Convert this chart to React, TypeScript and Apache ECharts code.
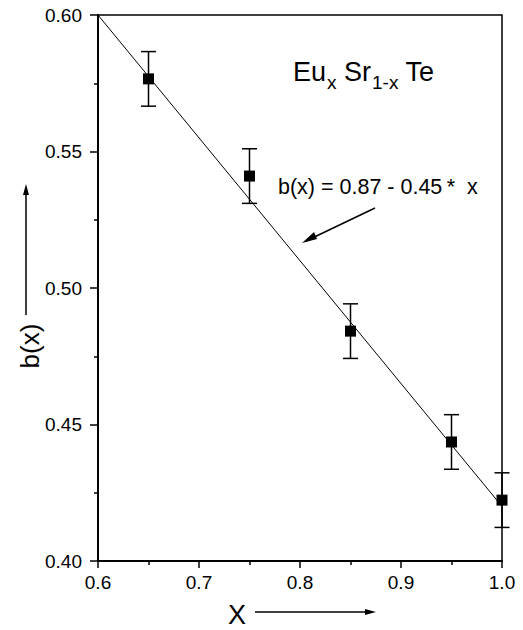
import React, { useEffect, useRef } from "react";
import * as echarts from "echarts";

const xValues = [0.65, 0.75, 0.85, 0.95, 1.0];
const bValues = [0.5766, 0.541, 0.4842, 0.4436, 0.4223];
const bErrors = [0.01, 0.01, 0.01, 0.01, 0.01];
const fitX = [0.6, 1.0];
const fitY = [0.6, 0.42];
const xTicks = [0.6, 0.7, 0.8, 0.9, 1.0];
const yTicks = [0.4, 0.45, 0.5, 0.55, 0.6];

const FONT = "'Liberation Sans', Arial, Helvetica, sans-serif";

export default function App() {
  const ref = useRef<HTMLDivElement>(null);
  useEffect(() => {
    if (!ref.current) return;
    const chart = echarts.init(ref.current, null, { renderer: "svg" });
    const points = xValues.map((x, i) => [x, bValues[i]]);
    const errs = xValues.map((x, i) => [x, bValues[i] - bErrors[i], bValues[i] + bErrors[i]]);
    const fit = fitX.map((x, i) => [x, fitY[i]]);
    chart.setOption({
      animation: false,
      backgroundColor: "#ffffff",
      textStyle: { fontFamily: FONT },
      grid: {
        left: 98,
        right: 21,
        top: 15,
        bottom: 69,
        show: true,
        borderColor: "#000",
        borderWidth: 1.5,
        containLabel: false,
      },
      xAxis: {
        type: "value",
        min: xTicks[0],
        max: xTicks[xTicks.length - 1],
        interval: 0.1,
        axisLine: { show: true, onZero: false, lineStyle: { color: "#000", width: 2 } },
        axisTick: { show: true, length: 7, lineStyle: { color: "#000", width: 1.5 } },
        minorTick: { show: true, splitNumber: 2, length: 4, lineStyle: { color: "#000", width: 1.5 } },
        splitLine: { show: false },
        axisLabel: {
          color: "#000",
          fontSize: 19,
          fontFamily: FONT,
          margin: 12,
          formatter: (v: number) => v.toFixed(1),
        },
      },
      yAxis: {
        type: "value",
        min: yTicks[0],
        max: yTicks[yTicks.length - 1],
        interval: 0.05,
        axisLine: { show: true, onZero: false, lineStyle: { color: "#000", width: 2 } },
        axisTick: { show: true, length: 8, lineStyle: { color: "#000", width: 1.5 } },
        minorTick: { show: true, splitNumber: 2, length: 4, lineStyle: { color: "#000", width: 1.5 } },
        splitLine: { show: false },
        axisLabel: {
          color: "#000",
          fontSize: 19,
          fontFamily: FONT,
          margin: 16,
          formatter: (v: number) => v.toFixed(2),
        },
      },
      series: [
        {
          type: "line",
          data: fit,
          symbol: "none",
          lineStyle: { color: "#000", width: 1 },
          z: 2,
        },
        {
          type: "custom",
          data: errs,
          z: 3,
          renderItem: (params: any, api: any) => {
            const x = api.value(0);
            const lo = api.coord([x, api.value(1)]);
            const hi = api.coord([x, api.value(2)]);
            const cap = 7.5;
            const style = { stroke: "#000", lineWidth: 1.5 };
            return {
              type: "group",
              children: [
                { type: "line", shape: { x1: lo[0], y1: lo[1], x2: hi[0], y2: hi[1] }, style },
                { type: "line", shape: { x1: lo[0] - cap, y1: lo[1], x2: lo[0] + cap, y2: lo[1] }, style },
                { type: "line", shape: { x1: hi[0] - cap, y1: hi[1], x2: hi[0] + cap, y2: hi[1] }, style },
              ],
            };
          },
        },
        {
          type: "scatter",
          data: points,
          symbol: "rect",
          symbolSize: 11,
          itemStyle: { color: "#000", opacity: 1 },
          z: 4,
        },
      ],
      graphic: [
        {
          type: "text",
          left: 293,
          top: 58,
          style: {
            text: "{n|Eu}{s|x}{n| Sr}{s|1-x}{n| Te}",
            fill: "#000",
            rich: {
              n: { fontSize: 27, fontFamily: FONT, fill: "#000", verticalAlign: "bottom", lineHeight: 30 },
              s: { fontSize: 19, fontFamily: FONT, fill: "#000", verticalAlign: "bottom", lineHeight: 22, padding: [0, 0, -7, 1] },
            },
          },
        },
        {
          type: "text",
          x: 278,
          y: 187,
          style: {
            text: "b(x) = 0.87 - 0.45\u2009*  x",
            fontSize: 21.5,
            fontFamily: FONT,
            fill: "#000",
            verticalAlign: "middle",
          },
        },
        {
          type: "line",
          shape: { x1: 375, y1: 208, x2: 306, y2: 241 },
          style: { stroke: "#000", lineWidth: 1.5 },
        },
        {
          type: "polygon",
          shape: { points: [[302, 243], [314, 232], [317, 239]] },
          style: { fill: "#000" },
        },
        {
          type: "text",
          x: 30,
          y: 346,
          rotation: Math.PI / 2,
          style: {
            text: "b(x)",
            fontSize: 26,
            fontFamily: FONT,
            fill: "#000",
            align: "center",
            verticalAlign: "middle",
          },
        },
        {
          type: "line",
          shape: { x1: 26, y1: 315, x2: 26, y2: 190 },
          style: { stroke: "#000", lineWidth: 1.5 },
        },
        {
          type: "polygon",
          shape: { points: [[26, 184], [23, 195], [29, 195]] },
          style: { fill: "#000" },
        },
        {
          type: "text",
          x: 237,
          y: 615,
          style: {
            text: "X",
            fontSize: 27,
            fontFamily: FONT,
            fill: "#000",
            align: "center",
            verticalAlign: "middle",
          },
        },
        {
          type: "line",
          shape: { x1: 255, y1: 612, x2: 368, y2: 612 },
          style: { stroke: "#000", lineWidth: 1.5 },
        },
        {
          type: "polygon",
          shape: { points: [[376, 612], [365, 609], [365, 615]] },
          style: { fill: "#000" },
        },
      ],
    });
    return () => chart.dispose();
  }, []);
  return (
    <div
      ref={ref}
      style={{ position: "fixed", left: 0, top: 0, width: 523, height: 630, background: "#fff" }}
    />
  );
}
